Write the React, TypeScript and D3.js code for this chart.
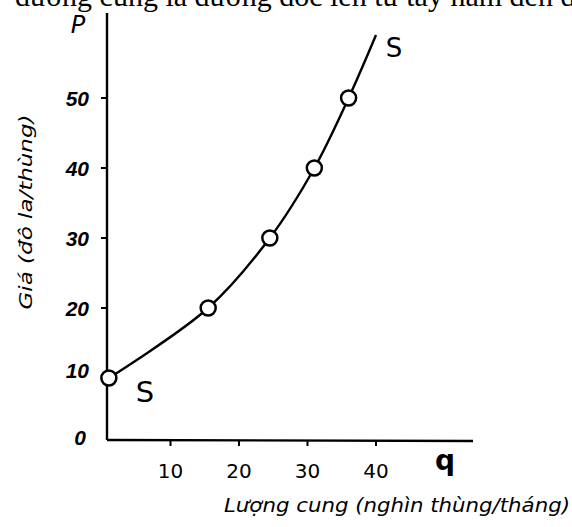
import React from 'react';
import * as d3 from 'd3';

// supply schedule
const quantity = [1, 15.5, 24.5, 31, 36];
const price = [10, 20, 30, 40, 50];
// where the hand-drawn curve runs on past the last point
const curveEnd = { q: 40, p: 59 };

const xTicks = [10, 20, 30, 40];
const yTicks = [10, 20, 30, 40, 50];

const topText = 'đường cung là đường dốc lên từ tây nam đến đông bắc';
const xTitle = 'Lượng cung (nghìn thùng/tháng)';
const yTitle = 'Giá (đô la/thùng)';

const width = 572;
const height = 527;

const App: React.FC = () => {
  const x = d3.scaleLinear().domain([0, 40]).range([102, 376]);
  const y = d3.scaleLinear().domain([0, 50]).range([448, 98]);

  const axisX = 107;
  const axisY = 440;

  const pts: [number, number][] = quantity.map((q, i) => [x(q), y(price[i])]);
  pts.push([x(curveEnd.q), y(curveEnd.p)]);

  const line = d3.line<[number, number]>()
    .x(d => d[0])
    .y(d => d[1])
    .curve(d3.curveCatmullRom.alpha(0.5));

  const sans = '"DejaVu Sans", "Liberation Sans", sans-serif';
  const tickFont = '"Liberation Sans", sans-serif';

  return (
    <svg
      width={width}
      height={height}
      style={{ position: 'absolute', left: 0, top: 0, background: '#fff' }}
    >
      {/* clipped line of book text at the top */}
      <text x={15} y={6} fontFamily='"Liberation Serif", serif' fontSize={30} fill="#000">
        {topText}
      </text>

      {/* axes */}
      <line x1={axisX} y1={13} x2={axisX} y2={axisY} stroke="#000" strokeWidth={2.4} />
      <line x1={axisX} y1={axisY} x2={473} y2={axisY + 1} stroke="#000" strokeWidth={2.4} />

      {yTicks.map(t => (
        <g key={'y' + t}>
          <line x1={axisX - 6} x2={axisX} y1={y(t)} y2={y(t)} stroke="#000" strokeWidth={2} />
          <text
            x={89}
            y={y(t) - (t === 10 ? 8 : 0)}
            textAnchor="end"
            dominantBaseline="central"
            fontFamily={tickFont}
            fontStyle="italic"
            fontWeight="bold"
            fontSize={21}
          >
            {t}
          </text>
        </g>
      ))}
      <text x={80} y={437} textAnchor="middle" dominantBaseline="central"
        fontFamily={tickFont} fontStyle="italic" fontWeight="bold" fontSize={21}>0</text>

      {xTicks.map(t => (
        <g key={'x' + t}>
          <line x1={x(t)} x2={x(t)} y1={axisY} y2={axisY + 6} stroke="#000" strokeWidth={2} />
          <text x={x(t)} y={471} textAnchor="middle" dominantBaseline="central"
            fontFamily={sans} fontSize={20}>
            {t}
          </text>
        </g>
      ))}

      {/* axis letters */}
      <text x={78} y={33} textAnchor="middle" fontFamily={sans} fontStyle="italic" fontSize={24}>P</text>
      <text x={445} y={470} textAnchor="middle" fontFamily={sans} fontWeight="bold" fontSize={28}>q</text>

      {/* titles */}
      <text
        transform={`translate(32,${212}) rotate(-90)`}
        textAnchor="middle"
        fontFamily={sans}
        fontStyle="italic"
        fontSize={18}
        textLength={195}
        lengthAdjust="spacingAndGlyphs"
      >
        {yTitle}
      </text>
      <text x={224} y={512} fontFamily={sans} fontStyle="italic" fontSize={20}
        textLength={346} lengthAdjust="spacingAndGlyphs">
        {xTitle}
      </text>

      {/* supply curve */}
      <path d={line(pts) ?? ''} fill="none" stroke="#000" strokeWidth={2.4} />
      {quantity.map((q, i) => (
        <circle key={i} cx={x(q)} cy={y(price[i])} r={7.5} fill="#fff" stroke="#000" strokeWidth={2.5} />
      ))}

      <text x={394} y={57} textAnchor="middle" fontFamily={sans} fontSize={26}>S</text>
      <text x={145} y={402} textAnchor="middle" fontFamily={sans} fontSize={29}>S</text>
    </svg>
  );
};

export default App;
